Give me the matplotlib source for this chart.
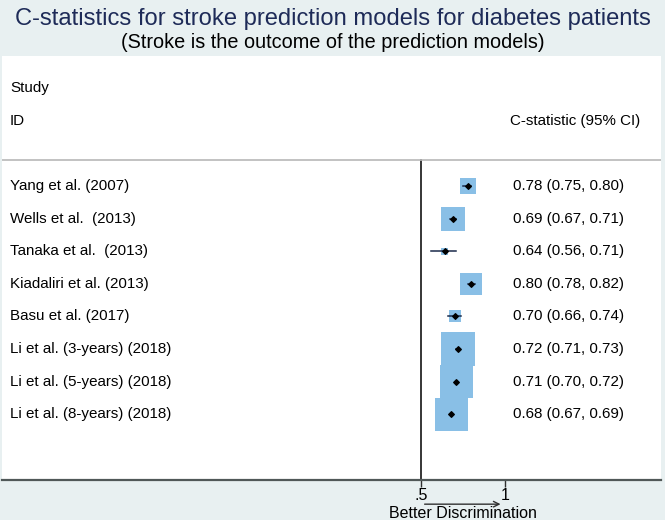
import matplotlib
matplotlib.use('Agg')
import matplotlib.pyplot as plt
import matplotlib.transforms as mtransforms

plt.rcParams['font.family'] = ['Liberation Sans', 'DejaVu Sans']

### data
studies = ["Yang et al. (2007)", "Wells et al.  (2013)", "Tanaka et al.  (2013)",
           "Kiadaliri et al. (2013)", "Basu et al. (2017)",
           "Li et al. (3-years) (2018)", "Li et al. (5-years) (2018)",
           "Li et al. (8-years) (2018)"]
cstat = [0.78, 0.69, 0.64, 0.80, 0.70, 0.72, 0.71, 0.68]
ci_low = [0.75, 0.67, 0.56, 0.78, 0.66, 0.71, 0.70, 0.67]
ci_high = [0.80, 0.71, 0.71, 0.82, 0.74, 0.73, 0.72, 0.69]
box_weight = [16, 24, 7, 22, 12, 34, 33, 33]   # relative box size (weights)
xticks = [0.5, 1]
xticklabels = [".5", "1"]

W, H = 665, 520
bg = '#e8f0f1'
fig = plt.figure(figsize=(W/100, H/100), dpi=100, facecolor=bg)

# white panel, in pixel units of the figure
left, right, top, bottom = 2, 661, 56, 480
ax = fig.add_axes([left/W, 1 - bottom/H, (right-left)/W, (bottom-top)/H], facecolor='white')

# x scale: .5 at px 421, 1 at px 505
ppu = (505 - 421) / 0.5
ax.set_xlim(0.5 - (421-left)/ppu, 0.5 + (right-421)/ppu)
row_px = 32.6
y0_px = 186
ax.set_ylim((bottom - y0_px)/row_px, (top - y0_px)/row_px)

rows = list(range(len(studies)))

# CI lines
for i in rows:
    ax.plot([ci_low[i], ci_high[i]], [i, i], color='#1a2a4a', lw=1.1, zorder=2)
# weighted boxes
ax.scatter(cstat, rows, marker='s', s=[(b*0.72)**2 for b in box_weight],
           color='#89bfe6', linewidths=0, zorder=1)
# point estimates
ax.scatter(cstat, rows, marker='D', s=8, color='black', zorder=3)

# null line at .5
ax.plot([0.5, 0.5], [(160 - y0_px)/row_px, (bottom - y0_px)/row_px], color='black', lw=1.1, zorder=2)
# header separator
ax.axhline((160 - y0_px)/row_px, color='#b8b8b8', lw=1.2)

trans = mtransforms.blended_transform_factory(ax.transAxes, ax.transData)
xl = (10 - left) / (right - left)
xr = (513 - left) / (right - left)
fs = 10.9
ax.text(xl, (88 - y0_px)/row_px, "Study", transform=trans, fontsize=fs, va='center')
ax.text(xl, (121 - y0_px)/row_px, "ID", transform=trans, fontsize=fs, va='center')
ax.text((510 - left)/(right - left), (121 - y0_px)/row_px, "C-statistic (95% CI)",
        transform=trans, fontsize=fs, va='center')
for i in rows:
    ax.text(xl, i, studies[i], transform=trans, fontsize=fs, va='center')
    ax.text(xr, i, "%.2f (%.2f, %.2f)" % (cstat[i], ci_low[i], ci_high[i]),
            transform=trans, fontsize=fs, va='center')

# axes styling
for s in ['top', 'left', 'right']:
    ax.spines[s].set_visible(False)
ax.spines['bottom'].set_color('#505858')
ax.spines['bottom'].set_linewidth(1.6)
ax.set_yticks([])
ax.set_xticks(xticks)
ax.set_xticklabels(xticklabels, fontsize=11.5)
ax.tick_params(axis='x', length=5, width=1, color='#303030', pad=1)

# arrow and label below axis
ax.annotate("", xy=(0.99, -0.057), xytext=(0.505, -0.057),
            xycoords=('data', 'axes fraction'),
            arrowprops=dict(arrowstyle='->', color='#303030', lw=1.0))
ax.text(0.75, -0.08, "Better Discrimination", transform=mtransforms.blended_transform_factory(ax.transData, ax.transAxes),
        fontsize=11.5, ha='center', va='center', clip_on=False)

# titles
fig.text(0.5, 1 - 19/H, "C-statistics for stroke prediction models for diabetes patients",
         ha='center', va='center', fontsize=17.1, color='#1e2b58')
fig.text(0.5, 1 - 43/H, "(Stroke is the outcome of the prediction models)",
         ha='center', va='center', fontsize=14.3, color='black')

fig.savefig('out.png', dpi=100, facecolor=bg)
